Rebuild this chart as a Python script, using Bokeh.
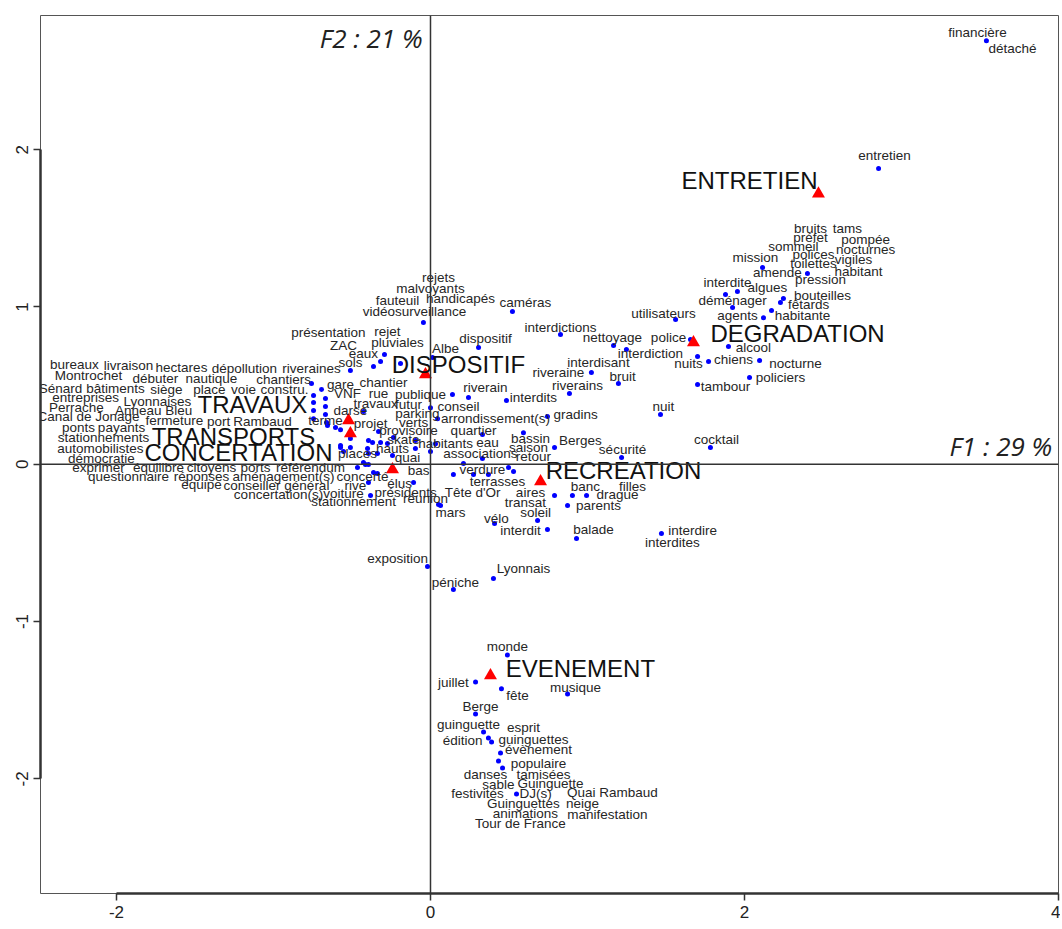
from bokeh.plotting import figure
from bokeh.models import ColumnDataSource, FixedTicker, Span, Label, CustomJSTickFormatter
from bokeh.core.properties import value
from bokeh.embed import file_html
from bokeh.resources import INLINE

# ---- word labels (positions in factor-plane coordinates F1, F2) ----
words = ["bureaux", "livraison", "hectares", "dépollution", "riveraines", "Montrochet", "débuter", "nautique",
         "chantiers", "Sénard", "bâtiments", "siège", "place", "voie", "constru.", "entreprises", "Lyonnaises",
         "Perrache", "Anneau Bleu", "Canal de Jonage", "fermeture", "port", "Rambaud", "ponts", "payants",
         "stationnements", "automobilistes", "démocratie", "exprimer", "équilibre", "citoyens", "ports",
         "référendum", "questionnaire", "réponses", "aménagement(s)", "équipe", "conseiller général",
         "concertation(s)", "rejets", "malvoyants", "handicapés", "fauteuil", "vidéosurveillance", "caméras",
         "présentation", "rejet", "ZAC", "pluviales", "eaux", "sols", "gare", "chantier", "VNF", "rue",
         "publique", "travaux", "futur", "conseil", "darse", "parking", "terme", "projet", "verts", "provisoire",
         "skate", "habitants", "hauts", "places", "quai", "bas", "concerté", "élus", "rive", "présidents",
         "voiture", "stationnement", "réunion", "Albe", "dispositif", "interdictions", "utilisateurs",
         "nettoyage", "police", "interdiction", "interdisant", "riveraine", "bruit", "riverain", "riverains",
         "interdits", "arrondissement(s)", "gradins", "quartier", "bassin", "Berges", "eau", "saison",
         "sécurité", "associations", "retour", "verdure", "terrasses", "Tête d'Or", "aires", "banc", "filles",
         "drague", "transat", "parents", "mars", "soleil", "vélo", "interdit", "balade", "interdire",
         "interdites", "exposition", "Lyonnais", "péniche", "cocktail", "nuit", "tambour", "policiers",
         "nocturne", "chiens", "nuits", "alcool", "habitante", "agents", "fêtards", "déménager", "bouteilles",
         "algues", "interdite", "pression", "amende", "habitant", "toilettes", "mission", "vigiles", "polices",
         "nocturnes", "sommeil", "pompée", "préfet", "bruits", "tams", "entretien", "financière", "détaché",
         "monde", "juillet", "fête", "musique", "Berge", "guinguette", "esprit", "édition", "guinguettes",
         "évènement", "populaire", "danses", "tamisées", "sable", "Guinguette", "festivités", "DJ(s)",
         "Quai Rambaud", "Guinguettes", "neige", "animations", "manifestation", "Tour de France"]
word_f1 = [-2.268, -1.924, -1.586, -1.185, -0.758, -2.178, -1.752, -1.395,
           -0.936, -2.357, -2.006, -1.682, -1.408, -1.191, -0.930, -2.197, -1.739,
           -2.255, -1.764, -2.178, -1.631, -1.350, -1.070, -2.242, -1.968,
           -2.083, -2.102, -2.096, -2.115, -1.732, -1.395, -1.115,
           -0.764, -1.924, -1.459, -0.936, -1.459, -0.981,
           -0.968, 0.051, 0.000, 0.191, -0.210, -0.102, 0.605,
           -0.650, -0.274, -0.554, -0.210, -0.427, -0.510, -0.573, -0.299, -0.529, -0.331,
           -0.064, -0.350, -0.140, 0.178, -0.510, -0.083, -0.669, -0.382, -0.108, -0.140,
           -0.172, 0.096, -0.242, -0.465, -0.146, -0.076, -0.433, -0.197, -0.478, -0.159,
           -0.554, -0.490, -0.032, 0.096, 0.350, 0.828, 1.484,
           1.159, 1.516, 1.401, 1.070, 0.815, 1.223, 0.350, 0.936,
           0.656, 0.414, 0.924, 0.274, 0.637, 0.955, 0.363, 0.624,
           1.223, 0.318, 0.656, 0.331, 0.427, 0.268, 0.637, 0.987, 1.287,
           1.191, 0.605, 1.070, 0.127, 0.669, 0.420, 0.573, 1.038, 1.669,
           1.541, -0.210, 0.592, 0.159, 1.822, 1.484, 1.879, 2.229,
           2.325, 1.930, 1.643, 2.057, 2.369, 1.955, 2.408, 1.924, 2.497,
           2.146, 1.892, 2.484, 2.210, 2.726, 2.439, 2.070, 2.694, 2.439,
           2.771, 2.312, 2.771, 2.420, 2.420, 2.656, 2.892, 3.484, 3.707,
           0.490, 0.146, 0.554, 0.924, 0.318, 0.242, 0.592, 0.204, 0.656,
           0.688, 0.688, 0.350, 0.720, 0.433, 0.764, 0.299, 0.669,
           1.159, 0.592, 0.968, 0.605, 1.127, 0.573]
word_f2 = [0.634, 0.627, 0.615, 0.608, 0.608, 0.564, 0.545, 0.545,
           0.538, 0.481, 0.481, 0.475, 0.475, 0.475, 0.475, 0.424, 0.399,
           0.360, 0.341, 0.303, 0.278, 0.272, 0.272, 0.233, 0.233,
           0.170, 0.100, 0.036, -0.021, -0.021, -0.021, -0.021,
           -0.021, -0.078, -0.078, -0.078, -0.129, -0.135,
           -0.192, 1.187, 1.117, 1.053, 1.041, 0.971, 1.028,
           0.838, 0.844, 0.755, 0.774, 0.704, 0.647, 0.507, 0.520, 0.449, 0.449,
           0.443, 0.386, 0.380, 0.367, 0.341, 0.322, 0.278, 0.259, 0.265, 0.214,
           0.157, 0.131, 0.100, 0.068, 0.043, -0.040, -0.078, -0.123, -0.135, -0.180,
           -0.186, -0.237, -0.218, 0.736, 0.799, 0.869, 0.958,
           0.806, 0.806, 0.704, 0.647, 0.583, 0.558, 0.488, 0.500,
           0.424, 0.291, 0.316, 0.214, 0.163, 0.151, 0.138, 0.106,
           0.093, 0.068, 0.049, -0.034, -0.110, -0.180, -0.180, -0.142, -0.142,
           -0.192, -0.243, -0.262, -0.307, -0.307, -0.345, -0.421, -0.415, -0.421,
           -0.498, -0.599, -0.663, -0.752, 0.157, 0.367, 0.494, 0.551,
           0.640, 0.666, 0.640, 0.742, 0.945, 0.945, 1.015, 1.041, 1.072,
           1.123, 1.155, 1.174, 1.219, 1.225, 1.276, 1.314, 1.301, 1.333,
           1.365, 1.384, 1.428, 1.441, 1.498, 1.498, 1.961, 2.744, 2.642,
           -1.159, -1.388, -1.470, -1.419, -1.540, -1.655, -1.674, -1.756, -1.750,
           -1.814, -1.903, -1.973, -1.973, -2.036, -2.030, -2.094, -2.094,
           -2.087, -2.158, -2.158, -2.221, -2.227, -2.285]

# ---- word points (blue dots) ----
dot_f1 = [-0.045, -0.293, -0.318, -0.363, -0.510, -0.191, -0.758, -0.694, -0.745, -0.745, -0.745, -0.745,
          -0.669, -0.669, -0.669, -0.662, -0.427, -0.656, -0.605, -0.573, -0.331, -0.236, -0.274, -0.395,
          -0.369, -0.510, -0.318, -0.573, -0.554, -0.401, -0.395, -0.338, -0.242, -0.096, 0.000, -0.465,
          -0.427, -0.414, -0.395, -0.363, -0.338, -0.395, -0.108, -0.382, 0.064, 0.013, 0.000, 0.045,
          0.032, 0.146, -0.096, -0.573, -0.510,
          0.522, 0.828, 0.306, 1.166, 1.248, 1.025, 1.197, 0.140, 0.242, 0.484, 0.885, 0.745, 0.331,
          0.592, 0.790, 1.217, 0.331, 0.210, 0.497, 0.529, 0.274, 0.369, 0.790, 0.904, 0.994, 0.873,
          0.682, 0.408, 0.745, 0.930, 1.471, 0.051, -0.019, 0.401, 0.146, 1.561, 1.656, 1.701, 1.771,
          1.898, 2.096, 2.032, 1.701, 1.465, 1.783, 2.121, 2.172, 1.924, 2.229, 2.248, 1.879, 1.955,
          2.115, 2.401, 2.854, 3.541, 0.490, 0.287, 0.452, 0.873, 0.287, 0.338, 0.369, 0.389, 0.446,
          0.433, 0.459, 0.548]
dot_f2 = [0.901, 0.698, 0.653, 0.621, 0.596, 0.640, 0.513, 0.475, 0.437, 0.392, 0.341, 0.290,
          0.418, 0.367, 0.316, 0.265, 0.335, 0.246, 0.233, 0.220, 0.208, 0.170, 0.132, 0.151,
          0.138, 0.163, 0.138, 0.106, 0.081, 0.100, 0.068, 0.068, 0.055, 0.100, 0.081, -0.021,
          0.011, -0.002, -0.002, -0.053, -0.059, -0.116, -0.116, -0.199, -0.262, 0.679, 0.360, 0.290,
          0.131, -0.065, 0.151, 0.119, 0.106,
          0.971, 0.825, 0.742, 0.755, 0.729, 0.583, 0.513, 0.443, 0.424, 0.405, 0.450, 0.303, 0.189,
          0.201, 0.106, 0.043, 0.036, 0.004, -0.021, -0.046, -0.065, -0.065, -0.199, -0.199, -0.199, -0.262,
          -0.358, -0.377, -0.415, -0.472, -0.440, -0.256, -0.650, -0.727, -0.797, 0.920, 0.793, 0.685, 0.653,
          0.748, 0.659, 0.551, 0.507, 0.316, 0.106, 0.932, 0.977, 0.996, 1.028, 1.053, 1.079, 1.098,
          1.251, 1.212, 1.880, 2.693, -1.212, -1.384, -1.428, -1.460, -1.588, -1.702, -1.740, -1.766, -1.836,
          -1.887, -1.931, -2.096]

# ---- categories (red triangles) and their labels ----
cats = ["ENTRETIEN", "DEGRADATION", "DISPOSITIF", "TRAVAUX", "TRANSPORTS", "CONCERTATION", "RECREATION", "EVENEMENT"]
cat_f1 = [2.471, 1.675, -0.032, -0.522, -0.510, -0.242, 0.701, 0.382]
cat_f2 = [1.720, 0.774, 0.570, 0.278, 0.195, -0.034, -0.110, -1.343]
cat_label_f1 = [2.032, 2.338, 0.178, -1.134, -1.255, -1.223, 1.229, 0.955]
cat_label_f2 = [1.803, 0.831, 0.634, 0.380, 0.176, 0.075, -0.040, -1.298]

x_ticks = [-2, 0, 2, 4]
y_ticks = [-2, -1, 0, 1, 2]
axis_titles = ["F1 : 29 %", "F2 : 21 %"]

p = figure(width=1060, height=923, output_backend="svg", toolbar_location=None,
           x_range=(-2.484, 4.0), y_range=(-2.729, 2.853),
           min_border_left=40, min_border_top=15, min_border_right=2, min_border_bottom=30)
p.background_fill_color = "white"
p.border_fill_color = "white"
p.outline_line_color = "#555555"
p.outline_line_width = 1
p.xgrid.visible = False
p.ygrid.visible = False

for ax, ticks, bnds in ((p.xaxis, x_ticks, (-2, 4)), (p.yaxis, y_ticks, (-2, 2))):
    ax.ticker = FixedTicker(ticks=ticks)
    ax.formatter = CustomJSTickFormatter(code="return String(tick);")
    ax.bounds = bnds
    ax.axis_line_width = 2.5
    ax.axis_line_color = "#333333"
    ax.major_tick_line_color = "#333333"
    ax.major_tick_line_width = 1.5
    ax.major_tick_out = 7
    ax.major_tick_in = 0
    ax.minor_tick_line_color = None
    ax.major_label_text_font = "Liberation Sans"
    ax.major_label_text_font_size = "17px"
    ax.major_label_text_color = "#222222"
p.xaxis.major_label_standoff = 5
p.yaxis.major_label_standoff = 5
p.yaxis.major_label_orientation = "vertical"

p.add_layout(Span(location=0, dimension="width", line_color="#333333", line_width=1.5))
p.add_layout(Span(location=0, dimension="height", line_color="#333333", line_width=1.5))

dots = ColumnDataSource(dict(x=dot_f1, y=dot_f2))
p.scatter("x", "y", source=dots, size=5, marker="circle", fill_color="#0000ff", line_color=None)

cat_src = ColumnDataSource(dict(x=cat_f1, y=cat_f2, lx=cat_label_f1, ly=cat_label_f2, t=cats))
p.scatter("x", "y", source=cat_src, size=13, marker="triangle", fill_color="#ff0000", line_color=None)

wsrc = ColumnDataSource(dict(x=word_f1, y=word_f2, t=words))
p.text("x", "y", text="t", source=wsrc, text_font=value("Liberation Sans"), text_font_size="13.5px",
       text_align="center", text_baseline="middle", text_color="#262626")

p.text("lx", "ly", text="t", source=cat_src, text_font=value("Liberation Sans"), text_font_size="24px",
       text_align="center", text_baseline="middle", text_color="#111111")

p.add_layout(Label(x=3.96, y=0.119, text=axis_titles[0], text_font="Open Sans", text_font_style="italic",
                   text_font_size="26px", text_align="right", text_baseline="middle", text_color="#222222"))
p.add_layout(Label(x=-0.05, y=2.713, text=axis_titles[1], text_font="Open Sans", text_font_style="italic",
                   text_font_size="26px", text_align="right", text_baseline="middle", text_color="#222222"))

open("out.html", "w").write(file_html(p, INLINE))
